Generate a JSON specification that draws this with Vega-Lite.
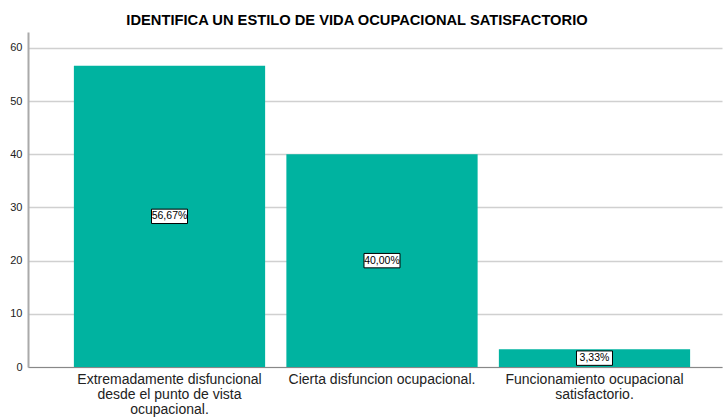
{
  "$schema": "https://vega.github.io/schema/vega-lite/v6.json",
  "width": 694,
  "height": 335,
  "autosize": {"type": "none"},
  "padding": {"left": 28, "top": 32, "right": 2, "bottom": 50},
  "title": {
    "text": "IDENTIFICA UN ESTILO DE VIDA OCUPACIONAL SATISFACTORIO",
    "font": "Liberation Sans",
    "fontSize": 14.7,
    "fontWeight": "bold",
    "color": "#000000",
    "anchor": "middle",
    "dx": -18,
    "offset": 4
  },
  "config": {"view": {"stroke": null}, "font": "Liberation Sans"},
  "data": {
    "values": [
      {"categoria": "Extremadamente disfuncional desde el punto de vista ocupacional.", "pct": 56.67},
      {"categoria": "Cierta disfuncion ocupacional.", "pct": 40.0},
      {"categoria": "Funcionamiento ocupacional satisfactorio.", "pct": 3.33}
    ]
  },
  "transform": [
    {"calculate": "datum.pct / 2", "as": "mid"},
    {"calculate": "replace(format(datum.pct, '.2f'), '.', ',') + '%'", "as": "etiqueta"}
  ],
  "encoding": {
    "x": {
      "field": "categoria",
      "type": "nominal",
      "sort": null,
      "scale": {"paddingInner": 0.1, "paddingOuter": 0.183, "align": 0.59},
      "axis": {
        "title": null,
        "labelAngle": 0,
        "labelFontSize": 14,
        "labelColor": "#222222",
        "labelLineHeight": 15,
        "labelBaseline": "top",
        "labelPadding": 5,
        "labelLimit": 0,
        "ticks": false,
        "domainColor": "#888888",
        "labelExpr": "datum.label == 'Extremadamente disfuncional desde el punto de vista ocupacional.' ? ['Extremadamente disfuncional', 'desde el punto de vista', 'ocupacional.'] : datum.label == 'Funcionamiento ocupacional satisfactorio.' ? ['Funcionamiento ocupacional', 'satisfactorio.'] : datum.label"
      }
    }
  },
  "layer": [
    {
      "mark": {"type": "bar", "color": "#00b3a0"},
      "encoding": {
        "y": {
          "field": "pct",
          "type": "quantitative",
          "scale": {"domain": [0, 63], "nice": false},
          "axis": {
            "title": null,
            "values": [0, 10, 20, 30, 40, 50, 60],
            "grid": true,
            "gridColor": "#d0d0d0",
            "gridWidth": 1.5,
            "domainColor": "#aaaaaa",
            "domainWidth": 2,
            "ticks": false,
            "labelPadding": 6,
            "labelFontSize": 11,
            "labelColor": "#222222"
          }
        }
      }
    },
    {
      "mark": {"type": "point", "shape": "M-1,-0.4H1V0.4H-1Z", "filled": true, "fill": "#ffffff", "stroke": "#000000", "strokeWidth": 1, "size": 1296, "opacity": 1},
      "encoding": {"y": {"field": "mid", "type": "quantitative"}}
    },
    {
      "mark": {"type": "text", "fontSize": 10.5, "color": "#000000", "baseline": "middle", "align": "center"},
      "encoding": {
        "y": {"field": "mid", "type": "quantitative"},
        "text": {"field": "etiqueta"}
      }
    }
  ]
}
